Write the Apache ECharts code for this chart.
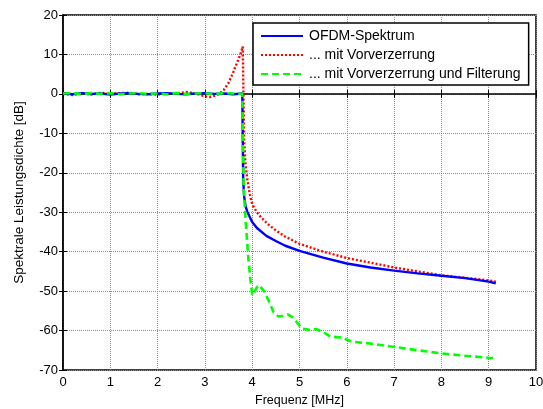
<!DOCTYPE html>
<html>
<head>
<meta charset="utf-8">
<script src="https://cdn.jsdelivr.net/npm/echarts@6/dist/echarts.min.js"></script>
<style>
  html, body { margin: 0; padding: 0; background: #fff; }
  #chart { width: 543px; height: 409px; }
</style>
</head>
<body>
<div id="chart"></div>
<script>
// Frequenz in MHz, Leistungsdichte in dB
const blueFreq = [0, 0.2, 0.4, 0.6, 0.8, 1.0, 1.2, 1.4, 1.6, 1.8, 2.0, 2.2, 2.4, 2.6, 2.8, 3.0, 3.2, 3.4, 3.6, 3.79,
  3.81, 3.83, 3.86, 3.9, 4.0, 4.1, 4.3, 4.5, 4.7, 5.0, 5.5, 6.0, 6.5, 7.0, 7.5, 8.0, 8.5, 9.0, 9.15]
const blueDb = [0.2, -0.1, 0.2, 0, 0.1, -0.2, 0.1, 0.2, 0, -0.1, 0.1, 0.2, 0, -0.1, 0.1, 0.2, 0, 0.1, -0.1, 0.1,
  -22, -26, -28.5, -30, -32.5, -34, -36, -37.3, -38.5, -39.8, -41.5, -43, -44, -44.8, -45.5, -46.1, -46.7, -47.6, -48]

const redFreq = [0, 0.2, 0.4, 0.6, 0.8, 1.0, 1.2, 1.4, 1.6, 1.8, 2.0, 2.2, 2.4, 2.6, 2.8, 3.0, 3.1, 3.2, 3.3, 3.4, 3.5, 3.6, 3.7, 3.75, 3.8,
  3.83, 3.86, 3.9, 3.95, 4.0, 4.1, 4.2, 4.35, 4.5, 4.7, 5.0, 5.5, 6.0, 6.5, 7.0, 7.5, 8.0, 8.5, 9.0, 9.15]
const redDb = [0, -0.3, 0.2, -0.2, 0.3, 0, 0.2, 0.3, -0.1, 0, -0.2, 0.1, 0, 0.5, 0.1, -0.6, -0.8, -0.5, 0, 1, 2.8, 5.5, 8.5, 10, 12,
  -12, -18, -22, -25.5, -28, -30, -31.5, -33.2, -34.6, -36.2, -38, -40, -41.6, -42.8, -44, -45, -46, -46.6, -47.3, -47.6]

const greenFreq = [0, 0.2, 0.4, 0.6, 0.8, 1.0, 1.2, 1.4, 1.6, 1.8, 2.0, 2.2, 2.4, 2.6, 2.8, 3.0, 3.2, 3.4, 3.6, 3.79,
  3.82, 3.86, 3.92, 3.97, 4.0, 4.05, 4.1, 4.15, 4.25, 4.35, 4.45, 4.55, 4.65, 4.75, 4.85, 4.95, 5.05, 5.2, 5.35, 5.5, 5.65,
  5.9, 6.1, 6.5, 6.9, 7.1, 7.5, 8.0, 8.5, 9.0, 9.15]
const greenDb = [0.1, 0.2, -0.1, 0.2, 0, 0.2, -0.1, 0.1, 0.2, 0, 0.1, -0.1, 0.2, 0, 0.1, 0.2, -0.1, 0.2, 0.1, 0,
  -24, -32, -42, -48, -51, -50.2, -49, -48.5, -50, -52.5, -55.3, -56.4, -56.3, -55.9, -56.6, -58, -59.5, -59.8, -59.6, -60.4, -61.5,
  -61.8, -62.8, -63.3, -64, -64.3, -65, -65.8, -66.4, -66.9, -67]

const xTicks = [0, 10, 1]
const yTicks = [-70, 20, 10]

const pairs = (fs, vs) => fs.map((f, i) => [f, vs[i]])

const font = 'Liberation Sans, Arial, sans-serif'
const gridLine = { show: true, lineStyle: { color: '#8c8c8c', type: [1, 1], width: 1 } }

const chart = echarts.init(document.getElementById('chart'))

const option = {
  animation: false,
  backgroundColor: '#fff',
  grid: {
    left: 63,
    right: 7,
    top: 15,
    bottom: 39,
    outerBoundsMode: 'none',
    show: true,
    borderColor: '#000',
    borderWidth: 1.5
  },
  legend: {
    orient: 'vertical',
    left: 253,
    top: 23,
    itemWidth: 42,
    itemHeight: 12,
    itemGap: 5,
    padding: [6, 8, 4, 7],
    backgroundColor: '#fff',
    borderColor: '#000',
    borderWidth: 1.5,
    itemStyle: { opacity: 0 },
    textStyle: { fontFamily: font, fontSize: 14, color: '#000', padding: [0, 0, 0, 1] },
    data: ['OFDM-Spektrum', '... mit Vorverzerrung', '... mit Vorverzerrung und Filterung']
  },
  xAxis: [
    {
      type: 'value',
      min: xTicks[0],
      max: xTicks[1],
      interval: xTicks[2],
      name: 'Frequenz [MHz]',
      nameLocation: 'middle',
      nameGap: 23,
      nameTextStyle: { fontFamily: font, fontSize: 12.5, color: '#000' },
      axisLine: { lineStyle: { color: '#000', width: 1.5 } },
      axisTick: { inside: true, length: 4, lineStyle: { color: '#000' } },
      axisLabel: { fontFamily: font, fontSize: 13, color: '#000', margin: 6 },
      splitLine: gridLine
    },
    {
      type: 'value',
      position: 'top',
      min: xTicks[0],
      max: xTicks[1],
      interval: xTicks[2],
      axisLine: { show: false },
      axisTick: { inside: true, length: 4, lineStyle: { color: '#000' } },
      axisLabel: { show: false },
      splitLine: { show: false }
    }
  ],
  yAxis: [
    {
      type: 'value',
      min: yTicks[0],
      max: yTicks[1],
      interval: yTicks[2],
      name: 'Spektrale Leistungsdichte [dB]',
      nameLocation: 'middle',
      nameGap: 37,
      nameTextStyle: { fontFamily: font, fontSize: 13.5, color: '#000' },
      axisLine: { show: true, lineStyle: { color: '#000', width: 1.5 } },
      axisTick: { show: true, inside: true, length: 4, lineStyle: { color: '#000' } },
      axisLabel: { fontFamily: font, fontSize: 13, color: '#000', margin: 5 },
      splitLine: gridLine
    },
    {
      type: 'value',
      position: 'right',
      min: yTicks[0],
      max: yTicks[1],
      interval: yTicks[2],
      axisLine: { show: false },
      axisTick: { show: true, inside: true, length: 4, lineStyle: { color: '#000' } },
      axisLabel: { show: false },
      splitLine: { show: false }
    }
  ],
  series: [
    {
      name: 'OFDM-Spektrum',
      type: 'line',
      symbol: 'none',
      data: pairs(blueFreq, blueDb),
      lineStyle: { color: '#0000ff', width: 2.4, type: 'solid' },
      itemStyle: { color: '#0000ff' },
      z: 3
    },
    {
      name: '... mit Vorverzerrung',
      type: 'line',
      symbol: 'none',
      data: pairs(redFreq, redDb),
      lineStyle: { color: '#ff0000', width: 2.4, type: [2, 2] },
      itemStyle: { color: '#ff0000' },
      z: 2
    },
    {
      name: '... mit Vorverzerrung und Filterung',
      type: 'line',
      symbol: 'none',
      data: pairs(greenFreq, greenDb),
      lineStyle: { color: '#00ff00', width: 2.6, type: [7, 4] },
      itemStyle: { color: '#00ff00' },
      z: 4
    }
  ]
}

chart.setOption(option)
</script>
</body>
</html>
